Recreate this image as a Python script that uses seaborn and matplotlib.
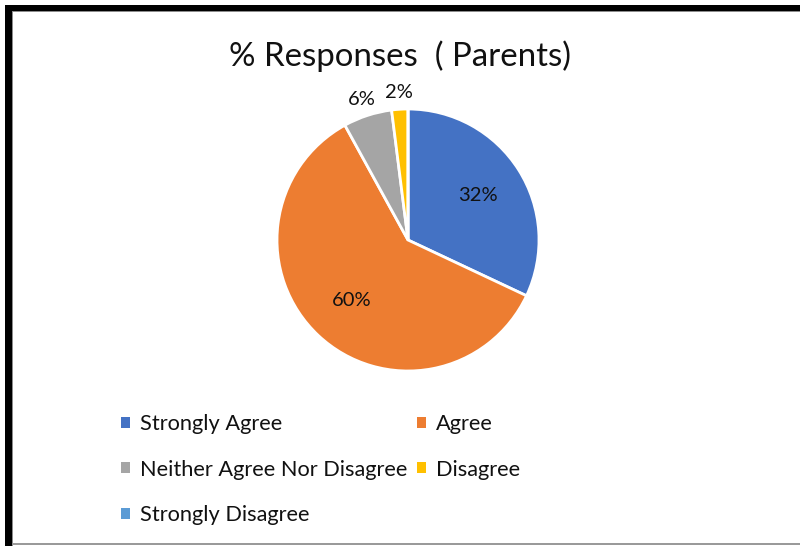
import numpy as np
import matplotlib
matplotlib.use("Agg")
import matplotlib.pyplot as plt
from matplotlib.patches import Patch, Rectangle
import seaborn as sns

# Survey responses (percent of parents)
categories = ["Strongly Agree", "Agree", "Neither Agree Nor Disagree", "Disagree", "Strongly Disagree"]
values = [32, 60, 6, 2, 0]
label_texts = ["32%", "60%", "6%", "2%", ""]
title_text = "% Responses  ( Parents)"

sns.set_theme(style="white")
plt.rcParams["font.family"] = ["Lato", "DejaVu Sans"]

colors = sns.color_palette(["#4472C4", "#ED7D31", "#A5A5A5", "#FFC000", "#5B9BD5"])
text_color = "#111111"

W, H = 800, 546
fig = plt.figure(figsize=(W / 100, H / 100), dpi=100)
fig.patch.set_facecolor("white")

# Pie axes: square box centred on the pie
cx, cy, r = 408, 240, 131
ax = fig.add_axes([(cx - r) / W, (H - cy - r) / H, 2 * r / W, 2 * r / H])
wedges, _ = ax.pie(values, colors=colors, startangle=90, counterclock=False,
                   wedgeprops=dict(edgecolor="white", linewidth=2.0))
ax.set_xlim(-1, 1)
ax.set_ylim(-1, 1)
ax.set_aspect("equal")
ax.axis("off")

# Percentage labels: large slices inside, thin slices just outside the rim
for w, v, txt in zip(wedges, values, label_texts):
    if not txt:
        continue
    mid = np.deg2rad((w.theta1 + w.theta2) / 2)
    rad = 0.63 if v >= 10 else 1.13
    ax.text(rad * np.cos(mid), rad * np.sin(mid), txt, ha="center", va="center",
            fontsize=14.5, color=text_color)

fig.text(0.5, 1 - 56 / H, title_text, ha="center", va="center",
         fontsize=23.8, color=text_color)

# Legend, filled row by row in two columns
order = [0, 2, 4, 1, 3]
handles = [Patch(facecolor=colors[i], edgecolor="none") for i in order]
labels = [categories[i] for i in order]
fig.legend(handles, labels, ncol=2, loc="upper left",
           bbox_to_anchor=(121 / W, 1 - 414 / H), frameon=False,
           fontsize=15.7, labelcolor=text_color, handlelength=0.42, handleheight=0.42,
           handletextpad=0.45, columnspacing=0.45, labelspacing=1.17, borderpad=0,
           borderaxespad=0)

# Frame around the chart
def px_rect(x0, y0, x1, y1, color):
    fig.patches.append(Rectangle((x0 / W, 1 - y1 / H), (x1 - x0) / W, (y1 - y0) / H,
                                 transform=fig.transFigure, facecolor=color,
                                 edgecolor="none", zorder=10))

px_rect(5, 5, W, 11, "black")
px_rect(5, 5, 12, H, "black")
px_rect(12, 11, W, 12, "#8c8c8c")
px_rect(12, 11, 13, H, "#8c8c8c")
px_rect(12, 543, W, 545, "#9a9a9a")

fig.savefig("out.png", dpi=100)
